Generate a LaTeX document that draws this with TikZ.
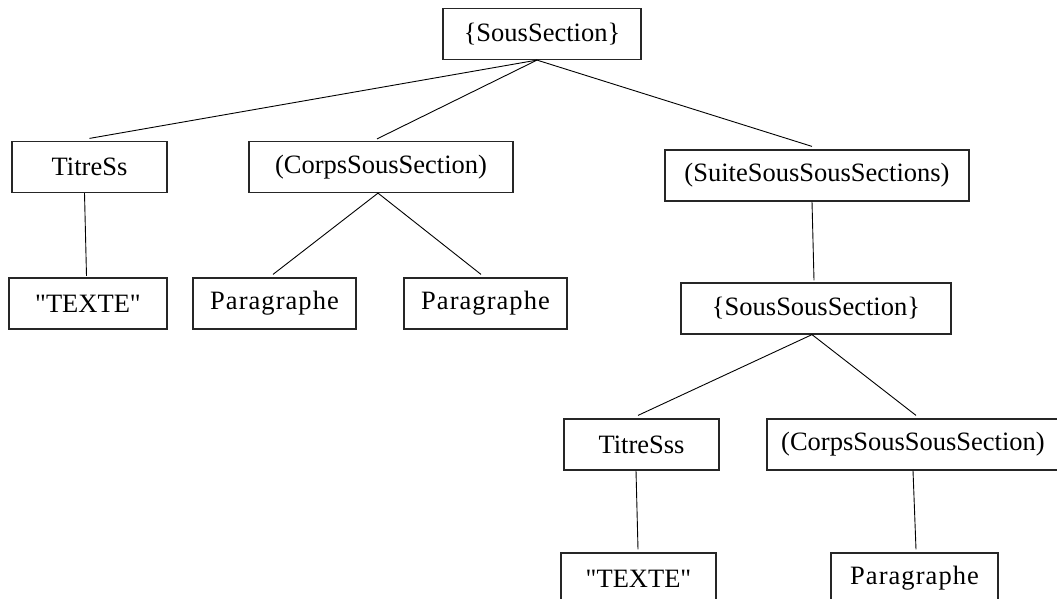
\documentclass[tikz,border=0pt]{standalone}
\usepackage{fontspec}
\newfontfamily\treefont{Liberation Serif}
\usetikzlibrary{calc}
\tikzset{
  treebox/.style={draw=black!85, line width=1.2pt, inner sep=0pt, minimum height=51pt,
    font=\treefont\fontsize{26.5}{31}\selectfont},
  para/.style={treebox, font=\treefont\fontsize{26.5}{31}\selectfont\addfontfeatures{LetterSpace=4}},
  edge/.style={draw=black, line width=0.9pt}
}
\begin{document}
\begin{tikzpicture}[x=1pt,y=-1pt]
\clip (0,0) rectangle (1057,598);
\fill[white] (0,0) rectangle (1057,598);
% nodes
\node[treebox, minimum width=198pt] (top) at (542,34) {\{SousSection\}};
\node[treebox, minimum width=155pt] (titress) at (89.5,167) {TitreSs};
\node[treebox, minimum width=264pt] (corps) at (381,167) {(CorpsSousSection)};
\node[treebox, minimum width=304pt] (suite) at (817,175.5) {(SuiteSousSousSections)};
\node[treebox, minimum width=158pt] (texteA) at (88,303.5) {"TEXTE"};
\node[para, minimum width=163pt] (paraA) at (274.5,303.5) {Paragraphe};
\node[para, minimum width=163pt] (paraB) at (485.5,303.5) {Paragraphe};
\node[treebox, minimum width=270pt] (soussous) at (816,308.5) {\{SousSousSection\}};
\node[treebox, minimum width=155pt] (titresss) at (641.5,444.5) {TitreSss};
\node[treebox, minimum width=292pt] (corpsB) at (913,444.5) {(CorpsSousSousSection)};
\node[treebox, minimum width=155pt] (texteB) at (638.5,578.5) {"TEXTE"};
\node[para, minimum width=167pt] (paraC) at (914.5,578.5) {Paragraphe};
% connectors
\coordinate (topfoot) at ($(top.south)+(-5,0)$);
\draw[edge] (topfoot) -- ($(titress.north)+(0,-2.5)$);
\draw[edge] (topfoot) -- ($(corps.north)+(-4,-2)$);
\draw[edge] (topfoot) -- ($(suite.north)+(-5,-3)$);
\draw[edge] ($(titress.south)+(-5,0)$) -- ($(texteA.north)+(-1.5,-1.5)$);
\coordinate (corpsfoot) at ($(corps.south)+(-3,0)$);
\draw[edge] (corpsfoot) -- ($(paraA.north)+(-1.5,-3)$);
\draw[edge] (corpsfoot) -- ($(paraB.north)+(-4.5,-3)$);
\draw[edge] ($(suite.south)+(-5,0)$) -- ($(soussous.north)+(-2,-2)$);
\coordinate (ssfoot) at ($(soussous.south)+(-4,0)$);
\draw[edge] (ssfoot) -- ($(titresss.north)+(-3.5,-3)$);
\draw[edge] (ssfoot) -- ($(corpsB.north)+(3,-3)$);
\draw[edge] ($(titresss.south)+(-5.5,0)$) -- ($(texteB.north)+(-0.5,-3)$);
\draw[edge] (corpsB.south) -- ($(paraC.north)+(1.5,-3)$);
\end{tikzpicture}
\end{document}
